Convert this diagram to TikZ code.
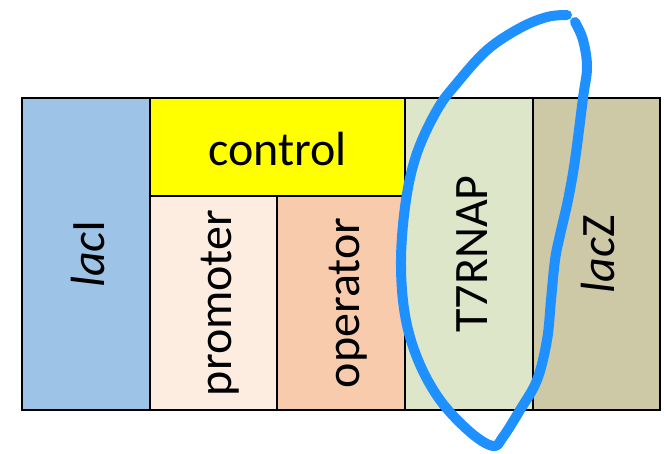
\documentclass[tikz,border=0pt]{standalone}
\usepackage{fontspec}
\setmainfont{Carlito}
\usepackage{tikz}
\usetikzlibrary{positioning}
\definecolor{laciblue}{RGB}{157,195,230}
\definecolor{ctrlyellow}{RGB}{255,255,0}
\definecolor{promfill}{RGB}{253,236,224}
\definecolor{operfill}{RGB}{248,203,173}
\definecolor{tsevfill}{RGB}{222,230,202}
\definecolor{laczfill}{RGB}{205,200,166}
\definecolor{circleblue}{RGB}{30,144,255}
\newcommand{\genestrut}{\rule[-0.23em]{0pt}{1.23em}}
\newcommand{\uptext}[1]{\rotatebox{90}{\genestrut#1}}

\begin{document}
\begin{tikzpicture}[x=1pt,y=-1pt,
node distance=0pt,
    G/.style = {rectangle, draw, line width=1.5pt,% styles of gene boxes
                minimum height=312pt, outer sep=0pt, inner sep=0pt,
                font=\fontsize{48}{58}\selectfont},
    C/.style = {G, anchor=north west, minimum height=214pt},% boxes under control
                        ]
\useasboundingbox (0,0) rectangle (664,453);
\node[G, fill=laciblue, minimum width=128pt] (lacI) at (86,254)
    {\uptext{\textit{lac}I}};
\node[G, anchor=north west, fill=ctrlyellow, minimum width=255pt,
      minimum height=98pt] (control) at (lacI.north east) {\genestrut control};
\node[C, fill=promfill, minimum width=127pt] (promoter) at (control.south west)
    {\uptext{promoter}};
\node[C, fill=operfill, minimum width=128pt] (operator) at (promoter.north east)
    {\uptext{operator}};
\node[G, anchor=north west, fill=tsevfill, minimum width=128pt] (T7RNAP)
    at (control.north east) {\uptext{T7RNAP}};
\node[G, anchor=north west, fill=laczfill, minimum width=127pt] (lacZ)
    at (T7RNAP.north east) {\uptext{\textit{lac}Z}};
% hand drawn loop round T7RNAP
\draw[circleblue, line width=10pt, line cap=round, line join=round]
    plot[smooth, tension=0.6] coordinates {(567,15) (547,17) (520,28) (487,50)
    (457,83) (437,110) (417,153) (406,200) (401,260) (405,315)
    (418,360) (440,400) (470,432) (493,446) (503,437) (520,410) (537,380)
    (547,340) (551,300) (555,260) (560,235) (568,200) (575,160) (583,98)
    (587,67) (583,40) (575,22)};
\end{tikzpicture}
\end{document}
